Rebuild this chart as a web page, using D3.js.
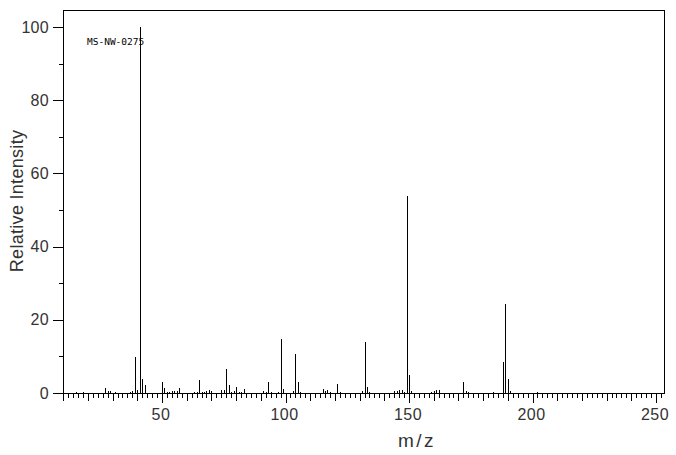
<!DOCTYPE html>
<html><head><meta charset="utf-8">
<script src="https://cdn.jsdelivr.net/npm/d3@7"></script>
<style>body{margin:0;background:#fff}svg{display:block}</style>
</head><body>
<svg id="c" width="676" height="455"></svg>
<script>
const mzValues = [15,18,27,28,29,31,37,38,39,40,41,42,43,50,51,52,53,54,55,56,57,63,64,65,66,67,68,69,70,74,75,76,77,78,79,80,81,82,83,91,92,93,94,97,98,99,103,104,105,106,115,116,117,118,121,122,131,132,133,134,144,145,146,147,148,149,150,151,159,160,161,162,172,173,174,184,188,189,190,191,202];
const intensities = [0.3,0.3,1.3,0.6,0.6,0.3,0.3,0.6,9.9,0.8,100,3.8,2.3,3.1,1.4,0.3,0.3,0.6,0.6,0.6,1.4,0.3,0.3,3.6,0.3,0.3,0.6,0.8,0.5,0.8,0.8,6.6,2.2,0.3,0.5,1.6,0.3,0.3,1.1,0.5,0.3,3.1,0.3,0.3,14.8,1.1,0.5,10.7,3.1,0.3,1.1,0.6,0.8,0.3,2.5,0.3,0.5,14.0,1.6,0.3,0.5,0.5,0.8,0.8,0.3,53.8,4.9,0.5,0.3,0.5,0.8,0.8,3.0,0.5,0.3,0.3,8.6,24.3,3.8,0.5,0.3];
const xTickLabels = [50,100,150,200,250];
const yTickLabels = [0,20,40,60,80,100];
const sampleId = "MS-NW-0275";
const xTitle = "m/z";
const yTitle = "Relative Intensity";

const svg = d3.select("#c");
const x = d3.scaleLinear().domain([50,250]).range([162,656]);
const y = d3.scaleLinear().domain([0,100]).range([393,27]);
const plotLeft = 63, plotRight = 664, plotTop = 10, base = y(0);
const font = "'Liberation Sans', Arial, sans-serif";
const textFill = "#333";

// frame
svg.append("path").attr("d",`M${plotLeft+0.5},${base}V${plotTop+0.5}H${plotRight+0.5}V${base}`)
  .attr("fill","none").attr("stroke","#000").attr("stroke-width",1).attr("shape-rendering","crispEdges");
// axis line
svg.append("line").attr("x1",plotLeft-10).attr("x2",plotRight+1).attr("y1",base+0.5).attr("y2",base+0.5)
  .attr("stroke","#000").attr("shape-rendering","crispEdges");

// x ticks every 2
const xt = d3.range(10,253,2);
svg.append("g").selectAll("line").data(xt).join("line")
  .attr("x1",d=>Math.round(x(d))+0.5).attr("x2",d=>Math.round(x(d))+0.5)
  .attr("y1",base).attr("y2",d=> base + (d%50===0?10:(d%10===0?7.5:4.5)))
  .attr("stroke","#000").attr("shape-rendering","crispEdges");
svg.append("g").selectAll("text").data(xTickLabels).join("text")
  .attr("x",d=>x(d)-1).attr("y",base+27).attr("text-anchor","middle")
  .attr("font-family",font).attr("font-size",16).attr("letter-spacing",0.5).attr("fill",textFill).text(d=>d);

// y ticks
const yt = d3.range(0,101,10);
svg.append("g").selectAll("line").data(yt).join("line")
  .attr("x1",d=> plotLeft - (d%20===0?10:4)).attr("x2",plotLeft)
  .attr("y1",d=>Math.round(y(d))+0.5).attr("y2",d=>Math.round(y(d))+0.5)
  .attr("stroke","#000").attr("shape-rendering","crispEdges");
svg.append("g").selectAll("text").data(yTickLabels).join("text")
  .attr("x",49).attr("y",d=>y(d)+5.5).attr("text-anchor","end")
  .attr("font-family",font).attr("font-size",16).attr("letter-spacing",0.3).attr("fill",textFill).text(d=>d);

// titles
svg.append("text").attr("x",417).attr("y",447).attr("text-anchor","middle")
  .attr("font-family",font).attr("font-size",19).attr("letter-spacing",2.5).attr("fill",textFill).text(xTitle);
svg.append("text").attr("transform","translate(23,201) rotate(-90)").attr("text-anchor","middle")
  .attr("font-family",font).attr("font-size",18).attr("letter-spacing",0.3).attr("fill",textFill).text(yTitle);

// sample id
svg.append("text").attr("x",87).attr("y",45).attr("font-family","'DejaVu Sans Mono', monospace")
  .attr("font-size",9.5).attr("fill","#000").text(sampleId);

// peaks
const peaks = mzValues.map((m,i)=>({m, v:intensities[i]}));
svg.append("g").selectAll("line").data(peaks).join("line")
  .attr("x1",d=>Math.round(x(d.m))+0.5).attr("x2",d=>Math.round(x(d.m))+0.5)
  .attr("y1",base).attr("y2",d=>y(d.v))
  .attr("stroke","#000").attr("stroke-width",1).attr("shape-rendering","crispEdges");
</script>
</body></html>
